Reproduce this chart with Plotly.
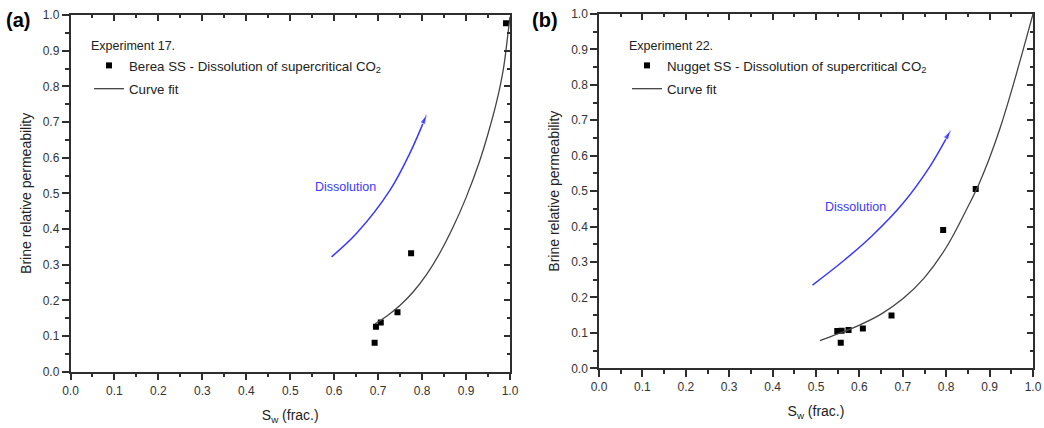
import plotly.graph_objects as go

# Experiment 17 - Berea sandstone
sw_a = [0.692, 0.695, 0.706, 0.744, 0.775, 0.991]
kr_a = [0.081, 0.126, 0.138, 0.167, 0.332, 0.977]
fit_sw_a = [0.693, 0.72, 0.75, 0.78, 0.81, 0.84, 0.87, 0.90, 0.93, 0.95, 0.97, 0.985, 0.995, 1.0]
fit_kr_a = [0.134, 0.156, 0.186, 0.224, 0.272, 0.332, 0.404, 0.488, 0.587, 0.667, 0.759, 0.849, 0.944, 0.995]
arrow_sw_a = [0.594, 0.651, 0.727, 0.772, 0.810]
arrow_kr_a = [0.322, 0.388, 0.509, 0.612, 0.720]

# Experiment 22 - Nugget sandstone
sw_b = [0.549, 0.559, 0.557, 0.575, 0.608, 0.674, 0.793, 0.868]
kr_b = [0.105, 0.106, 0.072, 0.108, 0.112, 0.149, 0.390, 0.506]
fit_sw_b = [0.509, 0.55, 0.60, 0.65, 0.70, 0.75, 0.80, 0.85, 0.875, 0.90, 0.925, 0.95, 0.975, 1.0]
fit_kr_b = [0.078, 0.097, 0.122, 0.153, 0.196, 0.256, 0.341, 0.456, 0.519, 0.594, 0.681, 0.781, 0.889, 1.0]
arrow_sw_b = [0.492, 0.56, 0.63, 0.70, 0.76, 0.810]
arrow_kr_b = [0.235, 0.300, 0.375, 0.465, 0.565, 0.671]

FONT = "Liberation Sans, Arial, sans-serif"
AX = "#2e2e2e"
BLUE = "#3a3aff"

fig = go.Figure()


def add_panel(sw, kr, fsw, fkr, asw, akr, xa, ya, name, legend):
    fig.add_trace(go.Scatter(
        x=sw, y=kr, mode="markers", xaxis=xa, yaxis=ya, legend=legend, legendgroup=legend + "pts",
        name=name + " - Dissolution of supercritical CO<sub>2</sub>",
        marker=dict(symbol="square", size=6, color="black"),
    ))
    fig.add_trace(go.Scatter(
        x=fsw, y=fkr, mode="lines", xaxis=xa, yaxis=ya, legend=legend, legendgroup=legend + "fit",
        name="Curve fit", line=dict(color="#444444", width=1.3, shape="spline"),
    ))
    sizes = [0] * (len(asw) - 1) + [10]
    fig.add_trace(go.Scatter(
        x=asw, y=akr, mode="lines+markers", xaxis=xa, yaxis=ya,
        showlegend=False, hoverinfo="skip",
        line=dict(color=BLUE, width=1.5, shape="spline"),
        marker=dict(symbol="arrow", size=sizes, color=BLUE, angleref="previous"),
    ))
    return sw, kr


pts_a = add_panel(sw_a, kr_a, fit_sw_a, fit_kr_a, arrow_sw_a, arrow_kr_a, "x", "y", "Berea SS", "legend")
pts_b = add_panel(sw_b, kr_b, fit_sw_b, fit_kr_b, arrow_sw_b, arrow_kr_b, "x2", "y2", "Nugget SS", "legend2")

# hidden copies of the data on the mirrored top/right axes so those axes are drawn
for (xa, ya), (sx, sy) in ((("x3", "y3"), pts_a), (("x4", "y4"), pts_b)):
    fig.add_trace(go.Scatter(x=sx, y=sy, xaxis=xa, yaxis=ya, mode="markers",
                             marker=dict(opacity=0), showlegend=False, hoverinfo="skip"))

tickfont = dict(family=FONT, size=12, color="#333333")
titlefont = dict(family=FONT, size=14, color="#222222")

common = dict(
    range=[0, 1], dtick=0.1, tickformat=".1f",
    showgrid=False, zeroline=False, showline=True, linecolor=AX, linewidth=1.5,
    tickwidth=1.5, tickcolor=AX, automargin=False,
)


def minor(direction, length):
    return dict(dtick=0.05, ticks=direction, ticklen=length, tickwidth=1.5, tickcolor=AX)


def bottom_axis(domain, anchor):
    return dict(
        domain=domain, anchor=anchor, ticks="outside", ticklen=7, tickfont=tickfont,
        minor=minor("outside", 4),
        title=dict(text="S<sub>w</sub> (frac.)", font=titlefont, standoff=13), **common,
    )


def left_axis(domain, anchor):
    return dict(
        domain=domain, anchor=anchor, ticks="outside", ticklen=7, tickfont=tickfont,
        minor=minor("outside", 4),
        title=dict(text="Brine relative permeability", font=titlefont, standoff=8), **common,
    )


def mirror_axis(over, anchor, side):
    return dict(
        overlaying=over, anchor=anchor, side=side, showticklabels=False,
        ticks="inside", ticklen=6, minor=minor("inside", 3), **common,
    )


W, H = 1044, 428
xa_dom = [70.5 / W, 510 / W]
xb_dom = [599 / W, 1033 / W]
ya_dom = [1 - 371.7 / H, 1 - 15 / H]
yb_dom = [1 - 368.3 / H, 1 - 14 / H]

legend_common = dict(
    bgcolor="rgba(0,0,0,0)", borderwidth=0, xanchor="left", yanchor="top",
    font=dict(family=FONT, size=13.3, color="#222222"), tracegroupgap=3,
    itemwidth=30,
)
legend_title_font = dict(family=FONT, size=12.5, color="#222222")

fig.update_layout(
    width=W, height=H, margin=dict(l=0, r=0, t=0, b=0),
    paper_bgcolor="white", plot_bgcolor="white",
    font=dict(family=FONT),
    xaxis=bottom_axis(xa_dom, "y"),
    yaxis=left_axis(ya_dom, "x"),
    xaxis2=bottom_axis(xb_dom, "y2"),
    yaxis2=left_axis(yb_dom, "x2"),
    xaxis3=mirror_axis("x", "y", "top"),
    yaxis3=mirror_axis("y", "x", "right"),
    xaxis4=mirror_axis("x2", "y2", "top"),
    yaxis4=mirror_axis("y2", "x2", "right"),
    legend=dict(x=89 / W, y=1 - 34 / H,
                title=dict(text="Experiment 17.", font=legend_title_font), **legend_common),
    legend2=dict(x=627 / W, y=1 - 34 / H,
                 title=dict(text="Experiment 22.", font=legend_title_font), **legend_common),
    showlegend=True,
)

# panel letters and arrow captions
fig.add_annotation(x=4 / W, y=1 - 20 / H, xref="paper", yref="paper", text="<b>(a)</b>",
                   showarrow=False, xanchor="left", yanchor="middle",
                   font=dict(family=FONT, size=20, color="black"))
fig.add_annotation(x=530 / W, y=1 - 20 / H, xref="paper", yref="paper", text="<b>(b)</b>",
                   showarrow=False, xanchor="left", yanchor="middle",
                   font=dict(family=FONT, size=20, color="black"))
fig.add_annotation(x=0.625, y=0.519, xref="x", yref="y", text="Dissolution", showarrow=False,
                   font=dict(family=FONT, size=12.5, color=BLUE))
fig.add_annotation(x=0.590, y=0.454, xref="x2", yref="y2", text="Dissolution", showarrow=False,
                   font=dict(family=FONT, size=12.5, color=BLUE))

fig.write_html("out.html")
